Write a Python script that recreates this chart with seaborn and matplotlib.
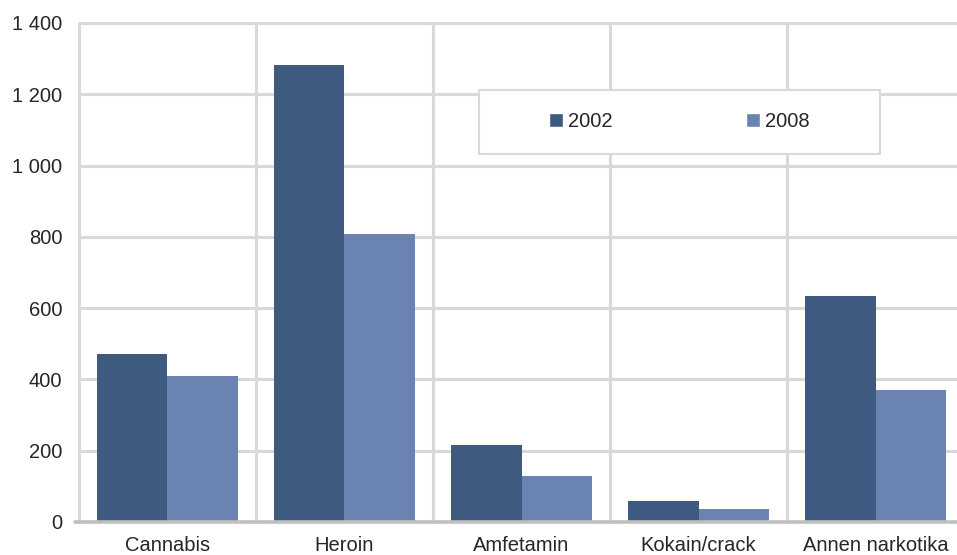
import pandas as pd
import matplotlib.pyplot as plt
import seaborn as sns
from matplotlib.patches import Patch, Rectangle
from matplotlib.ticker import FuncFormatter

# data
drugs = ["Cannabis", "Heroin", "Amfetamin", "Kokain/crack", "Annen narkotika"]
years = ["2002", "2008"]
values_2002 = [471, 1283, 216, 59, 634]
values_2008 = [410, 808, 129, 36, 370]

dark_blue = "#3E5A81"
light_blue = "#6A83B1"
grid_grey = "#D9D9D9"

df = pd.DataFrame({
    "drug": drugs * 2,
    "year": [years[0]] * len(drugs) + [years[1]] * len(drugs),
    "count": values_2002 + values_2008,
})

sns.set_style("white")
plt.rcParams["font.family"] = ["Liberation Sans", "DejaVu Sans"]

fig = plt.figure(figsize=(9.57, 5.55), dpi=100)
ax = fig.add_axes([0.0825, 0.0595, 0.9175, 0.8991])

sns.barplot(
    data=df, x="drug", y="count", hue="year",
    palette=[dark_blue, light_blue], saturation=1,
    width=0.8, gap=0, linewidth=0, ax=ax, legend=False, zorder=3,
)

ax.set_xlim(-0.5, 4.46)
ax.set_ylim(0, 1400)
ax.set_yticks(range(0, 1401, 200))
ax.yaxis.set_major_formatter(FuncFormatter(lambda v, p: f"{v:,.0f}".replace(",", " ")))

# gridlines: horizontal at ticks, vertical between categories
for v in range(200, 1401, 200):
    ax.axhline(v, color=grid_grey, lw=2.2, zorder=1, clip_on=False)
for b in [-0.5, 0.5, 1.5, 2.5, 3.5]:
    ax.axvline(b, color=grid_grey, lw=2.2, zorder=1, clip_on=False)
ax.axhline(0, xmin=-0.004, color="#BFBFBF", lw=2.6, zorder=4, clip_on=False)

for s in ax.spines.values():
    s.set_visible(False)

ax.set_xlabel("")
ax.set_ylabel("")
ax.tick_params(axis="y", length=0, pad=12, labelsize=14.5)
ax.tick_params(axis="x", length=0, pad=10, labelsize=14.5)

# legend box
frame = Rectangle((0.4556, 0.7375), 0.4567, 0.1282, transform=ax.transAxes,
                  facecolor="white", edgecolor=grid_grey, lw=1.5, zorder=5)
ax.add_patch(frame)
handles = [Patch(facecolor=dark_blue, label=years[0]),
           Patch(facecolor=light_blue, label=years[1])]
ax.legend(handles=handles, loc="center", bbox_to_anchor=(0.4556 + 0.4567 / 2, 0.7375 + 0.1282 / 2),
          ncol=2, frameon=False, fontsize=14.5, handlelength=0.7, handleheight=0.7,
          handletextpad=0.25, columnspacing=6.6, borderpad=0).set_zorder(6)

fig.savefig("out.png", dpi=100)
